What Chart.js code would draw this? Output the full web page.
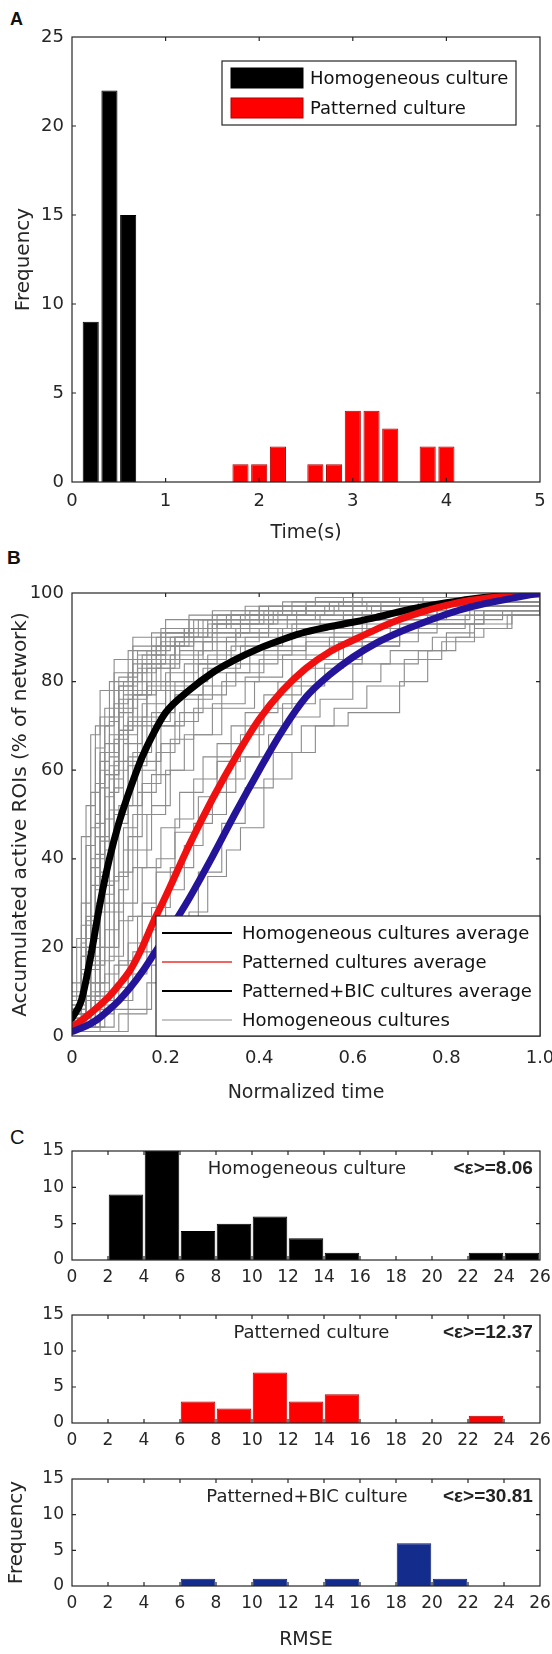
<!DOCTYPE html>
<html><head><meta charset="utf-8">
<script src="https://cdn.jsdelivr.net/npm/chart.js@4.4.1/dist/chart.umd.min.js"></script>
<style>
html,body{margin:0;padding:0;background:#fff;}
body{width:552px;height:1654px;position:relative;overflow:hidden;}
canvas{position:absolute;left:0;}
.lab{position:absolute;font-family:"Liberation Sans",Arial,sans-serif;color:#111;}
</style></head><body>
<div class="lab" style="left:10px;top:10px;font-size:18px;line-height:18px;font-weight:bold">A</div>
<div class="lab" style="left:7px;top:548px;font-size:19px;line-height:19px;font-weight:bold">B</div>
<div class="lab" style="left:10px;top:1127px;font-size:20px;line-height:20px">C</div>
<canvas id="cA" width="552" height="548" style="top:0px"></canvas>
<canvas id="cB" width="552" height="557" style="top:548px"></canvas>
<canvas id="cC1" width="552" height="190" style="top:1105px"></canvas>
<canvas id="cC2" width="552" height="158" style="top:1295px"></canvas>
<canvas id="cC3" width="552" height="201" style="top:1453px"></canvas>
<script>
// ---------- DATA ----------
// Panel A: histogram of times (bin centres in s)
const homTime = [0.2, 0.4, 0.6];
const homFreq = [9, 22, 15];
const patTime = [1.8, 2.0, 2.2, 2.6, 2.8, 3.0, 3.2, 3.4, 3.8, 4.0];
const patFreq = [1, 1, 2, 1, 1, 4, 4, 3, 2, 2];
const xTicksA = ['0', '1', '2', '3', '4', '5'];
const yTicksA = ['0', '5', '10', '15', '20', '25'];
const legendA = ['Homogeneous culture', 'Patterned culture'];

// Panel B: averages (normalized time vs % active ROIs)
const avgT   = [0,0.02,0.04,0.06,0.08,0.1,0.125,0.15,0.175,0.2,0.25,0.3,0.35,0.4,0.45,0.5,0.55,0.6,0.65,0.7,0.75,0.8,0.85,0.9,0.95,1];
const avgHom = [4,8,18,30,40,48,56,63,68.5,73,78,82,85,87.5,89.5,91.2,92.4,93.4,94.5,95.8,96.9,97.8,98.6,99.2,99.6,100];
const avgPat = [2,3.5,5.2,7,9,11.5,15,20,26,31.5,43,53.5,63,71.5,78,83,86.7,89.3,91.8,94,95.8,97.2,98.3,99,99.5,100];
const avgBic = [1,1.8,2.8,4.2,6,8,11,14.5,18.5,22.5,31,40.5,50.5,60,69,76.5,81.5,85.5,88.7,91.2,93.3,95.2,96.8,98,99,100];
// individual homogeneous cultures: step events [t, value, t, value, ...]
const homCurves = [
 [0,4, 0.02,15, 0.04,38, 0.06,62, 0.08,72, 0.11,80, 0.15,86, 0.2,90, 0.27,94, 0.38,96, 0.55,98, 1,100],
 [0,6, 0.03,20, 0.05,45, 0.07,66, 0.1,76, 0.13,82, 0.18,88, 0.25,92, 0.34,95, 0.5,97, 0.7,99, 1,100],
 [0,3, 0.03,12, 0.05,30, 0.08,55, 0.1,68, 0.14,78, 0.19,85, 0.26,90, 0.36,94, 0.48,96, 0.66,98, 1,100],
 [0,8, 0.02,25, 0.04,43, 0.05,57, 0.07,70, 0.09,78, 0.13,84, 0.17,88, 0.24,92, 0.31,95, 0.45,97, 1,100],
 [0,2, 0.04,10, 0.06,28, 0.09,48, 0.12,63, 0.15,72, 0.2,80, 0.26,85, 0.33,90, 0.42,93, 0.58,96, 0.8,98, 1,100],
 [0,5, 0.03,18, 0.06,40, 0.08,58, 0.11,70, 0.14,77, 0.18,83, 0.23,87, 0.3,91, 0.42,94, 0.6,97, 1,100],
 [0,10, 0.02,21, 0.03,43, 0.05,65, 0.07,74, 0.1,81, 0.14,87, 0.19,91, 0.26,94, 0.37,97, 0.52,99, 1,100],
 [0,4, 0.04,16, 0.07,35, 0.1,52, 0.13,64, 0.17,73, 0.22,80, 0.29,86, 0.37,90, 0.47,93, 0.62,96, 0.78,98, 1,100],
 [0,7, 0.03,27, 0.05,50, 0.06,64, 0.09,75, 0.12,82, 0.16,87, 0.21,90, 0.29,93, 0.4,95, 0.56,97, 1,100],
 [0,3, 0.05,20, 0.07,42, 0.09,60, 0.12,71, 0.16,79, 0.21,85, 0.28,89, 0.35,92, 0.46,95, 0.64,97, 1,100],
 [0,6, 0.02,14, 0.04,34, 0.07,54, 0.09,67, 0.12,76, 0.16,83, 0.22,89, 0.3,93, 0.41,96, 0.57,98, 1,100],
 [0,9, 0.03,30, 0.04,47, 0.06,60, 0.08,71, 0.1,79, 0.13,85, 0.18,90, 0.25,94, 0.34,96, 0.5,98, 1,100],
 [0,5, 0.04,22, 0.06,37, 0.08,51, 0.11,62, 0.14,70, 0.18,78, 0.24,84, 0.31,89, 0.4,92, 0.53,95, 0.72,97, 1,100],
 [0,2, 0.05,12, 0.08,30, 0.11,47, 0.14,60, 0.18,70, 0.22,77, 0.28,83, 0.36,88, 0.45,92, 0.6,95, 0.78,98, 1,100],
 [0,4, 0.02,18, 0.05,41, 0.07,59, 0.1,73, 0.13,80, 0.17,86, 0.22,90, 0.3,93, 0.44,96, 0.63,98, 1,100],
 [0,6, 0.03,19, 0.05,36, 0.08,63, 0.1,74, 0.14,83, 0.19,89, 0.24,92, 0.33,95, 0.47,98, 1,100],
 [0,3, 0.04,15, 0.06,32, 0.09,56, 0.11,66, 0.15,75, 0.2,82, 0.27,87, 0.35,91, 0.48,94, 0.66,97, 1,100],
 [0,7, 0.02,22, 0.04,40, 0.06,56, 0.08,68, 0.11,77, 0.15,84, 0.2,88, 0.26,92, 0.36,95, 0.54,97, 0.75,99, 1,100],
 [0,12, 0.03,20, 0.05,33, 0.07,49, 0.09,62, 0.12,72, 0.16,80, 0.21,86, 0.28,91, 0.38,94, 0.52,96, 0.74,98, 1,100],
 [0,20, 0.04,27, 0.06,45, 0.08,61, 0.1,69, 0.13,77, 0.17,84, 0.23,89, 0.31,93, 0.43,96, 0.6,98, 1,100],
 [0,3, 0.02,9, 0.04,25, 0.06,44, 0.08,59, 0.1,69, 0.13,78, 0.17,85, 0.22,90, 0.29,94, 0.4,97, 0.58,99, 1,100],
 [0,5, 0.03,17, 0.06,34, 0.09,50, 0.12,61, 0.16,71, 0.21,79, 0.27,84, 0.34,88, 0.44,92, 0.58,95, 0.76,97, 1,100],
 [0,8, 0.01,22, 0.02,45, 0.04,68, 0.06,78, 0.09,85, 0.13,90, 0.2,94, 0.3,96, 0.45,98, 1,100],
 [0,5, 0.02,30, 0.03,52, 0.05,70, 0.08,80, 0.12,87, 0.17,91, 0.25,95, 0.4,97, 0.6,99, 1,100],
 [0,6, 0.02,18, 0.04,55, 0.06,72, 0.09,82, 0.13,88, 0.19,92, 0.3,95, 0.5,97, 1,100],
 [0,4, 0.03,26, 0.05,48, 0.07,64, 0.1,79, 0.14,86, 0.2,91, 0.28,94, 0.42,97, 0.62,99, 1,100],
 [0,2, 0.04,6, 0.07,14, 0.1,26, 0.13,38, 0.16,50, 0.2,60, 0.24,68, 0.3,75, 0.37,81, 0.45,86, 0.55,90, 0.68,94, 0.85,97, 1,100],
 [0,3, 0.05,10, 0.08,20, 0.1,33, 0.12,45, 0.15,57, 0.19,66, 0.23,73, 0.28,79, 0.35,84, 0.44,88, 0.56,92, 0.7,95, 1,100],
 [0,1, 0.06,5, 0.09,11, 0.12,21, 0.15,30, 0.18,40, 0.22,49, 0.26,58, 0.31,66, 0.37,73, 0.44,80, 0.52,85, 0.62,89, 0.74,93, 0.88,96, 1,100],
 [0,4, 0.03,9, 0.06,17, 0.09,28, 0.11,42, 0.14,55, 0.18,64, 0.22,71, 0.27,77, 0.33,82, 0.41,87, 0.5,91, 0.63,94, 0.8,97, 1,100],
 [0,3, 0.05,9, 0.08,18, 0.11,30, 0.14,42, 0.17,52, 0.21,60, 0.26,68, 0.32,74, 0.39,80, 0.47,85, 0.57,89, 0.7,93, 0.86,96, 1,100],
 [0,2, 0.06,7, 0.09,16, 0.12,27, 0.15,38, 0.19,47, 0.23,55, 0.28,63, 0.34,70, 0.41,77, 0.49,83, 0.58,88, 0.7,92, 0.84,95, 1,100],
 [0,5, 0.04,12, 0.07,24, 0.1,37, 0.13,50, 0.17,59, 0.21,67, 0.26,74, 0.32,80, 0.4,85, 0.5,89, 0.62,93, 0.78,96, 1,100],
 [0,2, 0.03,8, 0.06,20, 0.09,36, 0.12,52, 0.15,62, 0.19,70, 0.24,76, 0.3,82, 0.38,86, 0.47,90, 0.6,94, 0.76,97, 1,100],
 [0,1, 0.1,5, 0.16,12, 0.2,20, 0.25,28, 0.29,36, 0.33,42, 0.36,47, 0.41,58, 0.47,64, 0.52,70, 0.59,73, 0.7,80, 0.76,87, 0.82,90, 0.88,92, 0.93,95, 1,100],
 [0,2, 0.07,6, 0.12,14, 0.16,24, 0.2,33, 0.24,43, 0.28,50, 0.33,58, 0.37,63, 0.42,68, 0.47,72, 0.53,76, 0.6,80, 0.66,84, 0.74,87, 0.8,91, 0.86,94, 0.92,96, 1,100],
 [0,3, 0.06,8, 0.1,17, 0.14,27, 0.18,37, 0.22,46, 0.27,54, 0.31,62, 0.36,68, 0.41,74, 0.47,79, 0.54,84, 0.62,88, 0.7,91, 0.78,93, 0.88,96, 1,100],
 [0,2, 0.09,8, 0.13,19, 0.17,29, 0.21,38, 0.26,48, 0.3,55, 0.35,63, 0.4,70, 0.45,75, 0.52,80, 0.6,84, 0.68,87, 0.77,90, 0.85,93, 0.94,95, 1,100],
 [0,1, 0.12,6, 0.17,16, 0.22,26, 0.27,37, 0.32,48, 0.37,56, 0.43,64, 0.49,70, 0.56,74, 0.63,79, 0.71,85, 0.79,89, 0.86,92, 0.94,96, 1,100]
];
const xTicksB = ['0', '0.2', '0.4', '0.6', '0.8', '1.0'];
const yTicksB = ['0', '20', '40', '60', '80', '100'];
const legendB = ['Homogeneous cultures average', 'Patterned cultures average', 'Patterned+BIC cultures average', 'Homogeneous cultures'];

// Panel C: RMSE histograms (bin centres, width 2)
const rmseBins = [1, 3, 5, 7, 9, 11, 13, 15, 17, 19, 21, 23, 25];
const rmseHom  = [0, 9, 15, 4, 5, 6, 3, 1, 0, 0, 0, 1, 1];
const rmsePat  = [0, 0, 0, 3, 2, 7, 3, 4, 0, 0, 0, 1, 0];
const rmseBic  = [0, 0, 0, 1, 0, 1, 0, 1, 0, 6, 1, 0, 0];
const xTicksC = ['0','2','4','6','8','10','12','14','16','18','20','22','24','26'];
const yTicksC = ['0', '5', '10', '15'];
const titlesC = ['Homogeneous culture', 'Patterned culture', 'Patterned+BIC culture'];
const epsC = ['<\u03B5>=8.06', '<\u03B5>=12.37', '<\u03B5>=30.81'];

// ---------- STYLE / RENDER ----------
const FONT = '"DejaVu Sans", "Liberation Sans", Arial, sans-serif';
const FONT_B = '"Liberation Sans", Arial, sans-serif';
Chart.defaults.font.family = FONT;
Chart.defaults.color = '#262626';
Chart.defaults.animation = false;
const AX = '#262626';

const framePlugin = {
  id: 'frame',
  afterDatasetsDraw(chart) {
    const { ctx, chartArea: a, scales } = chart;
    const L = 4;
    ctx.save();
    ctx.strokeStyle = AX; ctx.lineWidth = 1.2;
    ctx.beginPath();
    scales.x.ticks.forEach(t => {
      const p = scales.x.getPixelForValue(t.value);
      if (p > a.left + 1 && p < a.right - 1) {
        ctx.moveTo(p, a.bottom); ctx.lineTo(p, a.bottom - L);
        ctx.moveTo(p, a.top); ctx.lineTo(p, a.top + L);
      }
    });
    scales.y.ticks.forEach(t => {
      const p = scales.y.getPixelForValue(t.value);
      if (p > a.top + 1 && p < a.bottom - 1) {
        ctx.moveTo(a.left, p); ctx.lineTo(a.left + L, p);
        ctx.moveTo(a.right, p); ctx.lineTo(a.right - L, p);
      }
    });
    ctx.stroke();
    ctx.strokeRect(a.left, a.top, a.right - a.left, a.bottom - a.top);
    ctx.restore();
  }
};

function xAxis(min, max, step, labels, h, pad, size, title) {
  return {
    type: 'linear', min, max, offset: false,
    grid: { display: false, drawTicks: false, offset: false }, border: { display: false },
    ticks: { stepSize: step, padding: pad, autoSkip: false, maxRotation: 0, font: { size },
             callback: (v, i) => labels[i] },
    title: title ? { display: true, text: title.text, font: { size: title.size }, padding: { top: 0, bottom: title.pad } } : { display: false },
    afterFit: s => { s.height = h; s.paddingLeft = 0; s.paddingRight = 0; }
  };
}
function yAxis(min, max, step, labels, size, title) {
  return {
    type: 'linear', min, max,
    grid: { display: false, drawTicks: false }, border: { display: false },
    ticks: { stepSize: step, padding: 8, font: { size }, callback: (v, i) => labels[i] },
    title: title ? { display: true, text: title.text, font: { size: title.size }, padding: { top: title.pad, bottom: 0 } } : { display: false },
    afterFit: s => { s.width = 72; s.paddingTop = 0; s.paddingBottom = 0; }
  };
}
const baseOpts = (padTop) => ({
  responsive: false, animation: false, events: [],
  layout: { padding: { top: padTop, right: 12, bottom: 0, left: 0 } },
  plugins: { legend: { display: false }, tooltip: { enabled: false } }
});

// ----- Panel A -----
const legendAPlugin = {
  id: 'legendA',
  afterDraw(chart) {
    const { ctx, chartArea: a } = chart;
    const bx = a.left + 150, by = a.top + 24, bw = 294, bh = 64;
    ctx.save();
    ctx.fillStyle = '#fff'; ctx.fillRect(bx, by, bw, bh);
    ctx.strokeStyle = AX; ctx.lineWidth = 1.2; ctx.strokeRect(bx, by, bw, bh);
    chart.data.datasets.forEach((ds, i) => {
      const ry = by + 17 + i * 30;
      ctx.fillStyle = ds.backgroundColor; ctx.fillRect(bx + 9, ry - 10, 72, 20);
      ctx.strokeStyle = ds.borderColor; ctx.lineWidth = 1; ctx.strokeRect(bx + 9, ry - 10, 72, 20);
      ctx.fillStyle = '#111'; ctx.font = '18px ' + FONT; ctx.textBaseline = 'middle'; ctx.textAlign = 'left';
      ctx.fillText(legendA[i], bx + 88, ry + 1);
    });
    ctx.restore();
  }
};
new Chart(document.getElementById('cA'), {
  type: 'bar',
  data: { datasets: [
    { data: homTime.map((x, i) => ({ x, y: homFreq[i] })), backgroundColor: '#000', borderColor: '#000', borderWidth: 1,
      grouped: false, barPercentage: 0.86, categoryPercentage: 1 },
    { data: patTime.map((x, i) => ({ x, y: patFreq[i] })), backgroundColor: '#ff0000', borderColor: '#b00000', borderWidth: 1,
      grouped: false, barPercentage: 0.86, categoryPercentage: 1 }
  ]},
  options: Object.assign(baseOpts(37), {
    scales: {
      x: xAxis(0, 5, 1, xTicksA, 66, 9, 18, { text: 'Time(s)', size: 19, pad: 4 }),
      y: yAxis(0, 25, 5, yTicksA, 18, { text: 'Frequency', size: 20, pad: 11.5 })
    }
  }),
  plugins: [framePlugin, legendAPlugin]
});

// ----- Panel B -----
const legendBStyle = [
  { color: '#000', width: 2 }, { color: '#e8322e', width: 1.5 },
  { color: '#000', width: 2 }, { color: '#8c8c8c', width: 1.2 }
];
const legendBPlugin = {
  id: 'legendB',
  afterDraw(chart) {
    const { ctx, chartArea: a } = chart;
    const bx = 156, by = a.bottom - 120, bw = a.right - bx, bh = a.bottom - by;
    ctx.save();
    ctx.fillStyle = '#fff'; ctx.fillRect(bx, by, bw, bh);
    ctx.strokeStyle = AX; ctx.lineWidth = 1.2; ctx.strokeRect(bx, by, bw, bh);
    legendB.forEach((t, i) => {
      const ry = by + 17 + i * 29;
      ctx.strokeStyle = legendBStyle[i].color; ctx.lineWidth = legendBStyle[i].width;
      ctx.beginPath(); ctx.moveTo(bx + 6, ry); ctx.lineTo(bx + 76, ry); ctx.stroke();
      ctx.fillStyle = '#111'; ctx.font = '18px ' + FONT; ctx.textBaseline = 'middle'; ctx.textAlign = 'left';
      ctx.fillText(t, bx + 86, ry + 1);
    });
    ctx.restore();
  }
};
const pairs = arr => { const out = []; for (let i = 0; i < arr.length; i += 2) out.push({ x: arr[i], y: arr[i + 1] }); return out; };
const avgDs = (vals, color, order) => ({
  data: avgT.map((x, i) => ({ x, y: vals[i] })), borderColor: color, borderWidth: 7, pointRadius: 0,
  cubicInterpolationMode: 'monotone', borderCapStyle: 'round', fill: false, order
});
const datasetsB = [
  avgDs(avgBic, '#24149a', 0),
  avgDs(avgPat, '#f01010', 1),
  avgDs(avgHom, '#000000', 2)
].concat(homCurves.map(c => ({
  data: pairs(c), borderColor: '#8c8c8c', borderWidth: 1.1, pointRadius: 0, stepped: true, fill: false, order: 3
})));
new Chart(document.getElementById('cB'), {
  type: 'line',
  data: { datasets: datasetsB },
  options: Object.assign(baseOpts(45), {
    scales: {
      x: xAxis(0, 1, 0.2, xTicksB, 69, 12, 18, { text: 'Normalized time', size: 19, pad: 0.6 }),
      y: yAxis(0, 100, 20, yTicksB, 18, { text: 'Accumulated active ROIs (% of network)', size: 20, pad: 9 })
    }
  }),
  plugins: [framePlugin, legendBPlugin]
});

// ----- Panel C -----
function histC(id, vals, fill, edge, padTop, xh, idx, xTitle, yTitle, annX) {
  const annPlugin = {
    id: 'ann' + idx,
    afterDraw(chart) {
      const { ctx, scales } = chart;
      const y = scales.y.getPixelForValue(12.5);
      ctx.save();
      ctx.fillStyle = '#222'; ctx.textBaseline = 'middle';
      ctx.font = '18px ' + FONT; ctx.textAlign = 'center';
      ctx.fillText(titlesC[idx], scales.x.getPixelForValue(annX), y);
      ctx.font = 'bold 19px ' + FONT_B; ctx.textAlign = 'right';
      ctx.fillText(epsC[idx], scales.x.getPixelForValue(25.6), y);
      ctx.restore();
    }
  };
  new Chart(document.getElementById(id), {
    type: 'bar',
    data: { datasets: [{ data: rmseBins.map((x, i) => ({ x, y: vals[i] })), backgroundColor: fill, borderColor: edge,
      borderWidth: 1, barPercentage: 0.96, categoryPercentage: 1 }] },
    options: Object.assign(baseOpts(padTop), {
      scales: {
        x: xAxis(0, 26, 2, xTicksC, xh, 7.5, 17, xTitle),
        y: yAxis(0, 15, 5, yTicksC, 17, yTitle)
      }
    }),
    plugins: [framePlugin, annPlugin]
  });
}
histC('cC1', rmseHom, '#000000', '#000000', 46, 35, 0, null, null, 13.05);
histC('cC2', rmsePat, '#ff0000', '#b00000', 20, 30, 1, null, null, 13.3);
histC('cC3', rmseBic, '#142c8c', '#0a1e6e', 26, 68, 2, { text: 'RMSE', size: 19, pad: 2.6 }, { text: 'Frequency', size: 20, pad: 4.7 }, 13.05);
</script>
</body></html>
